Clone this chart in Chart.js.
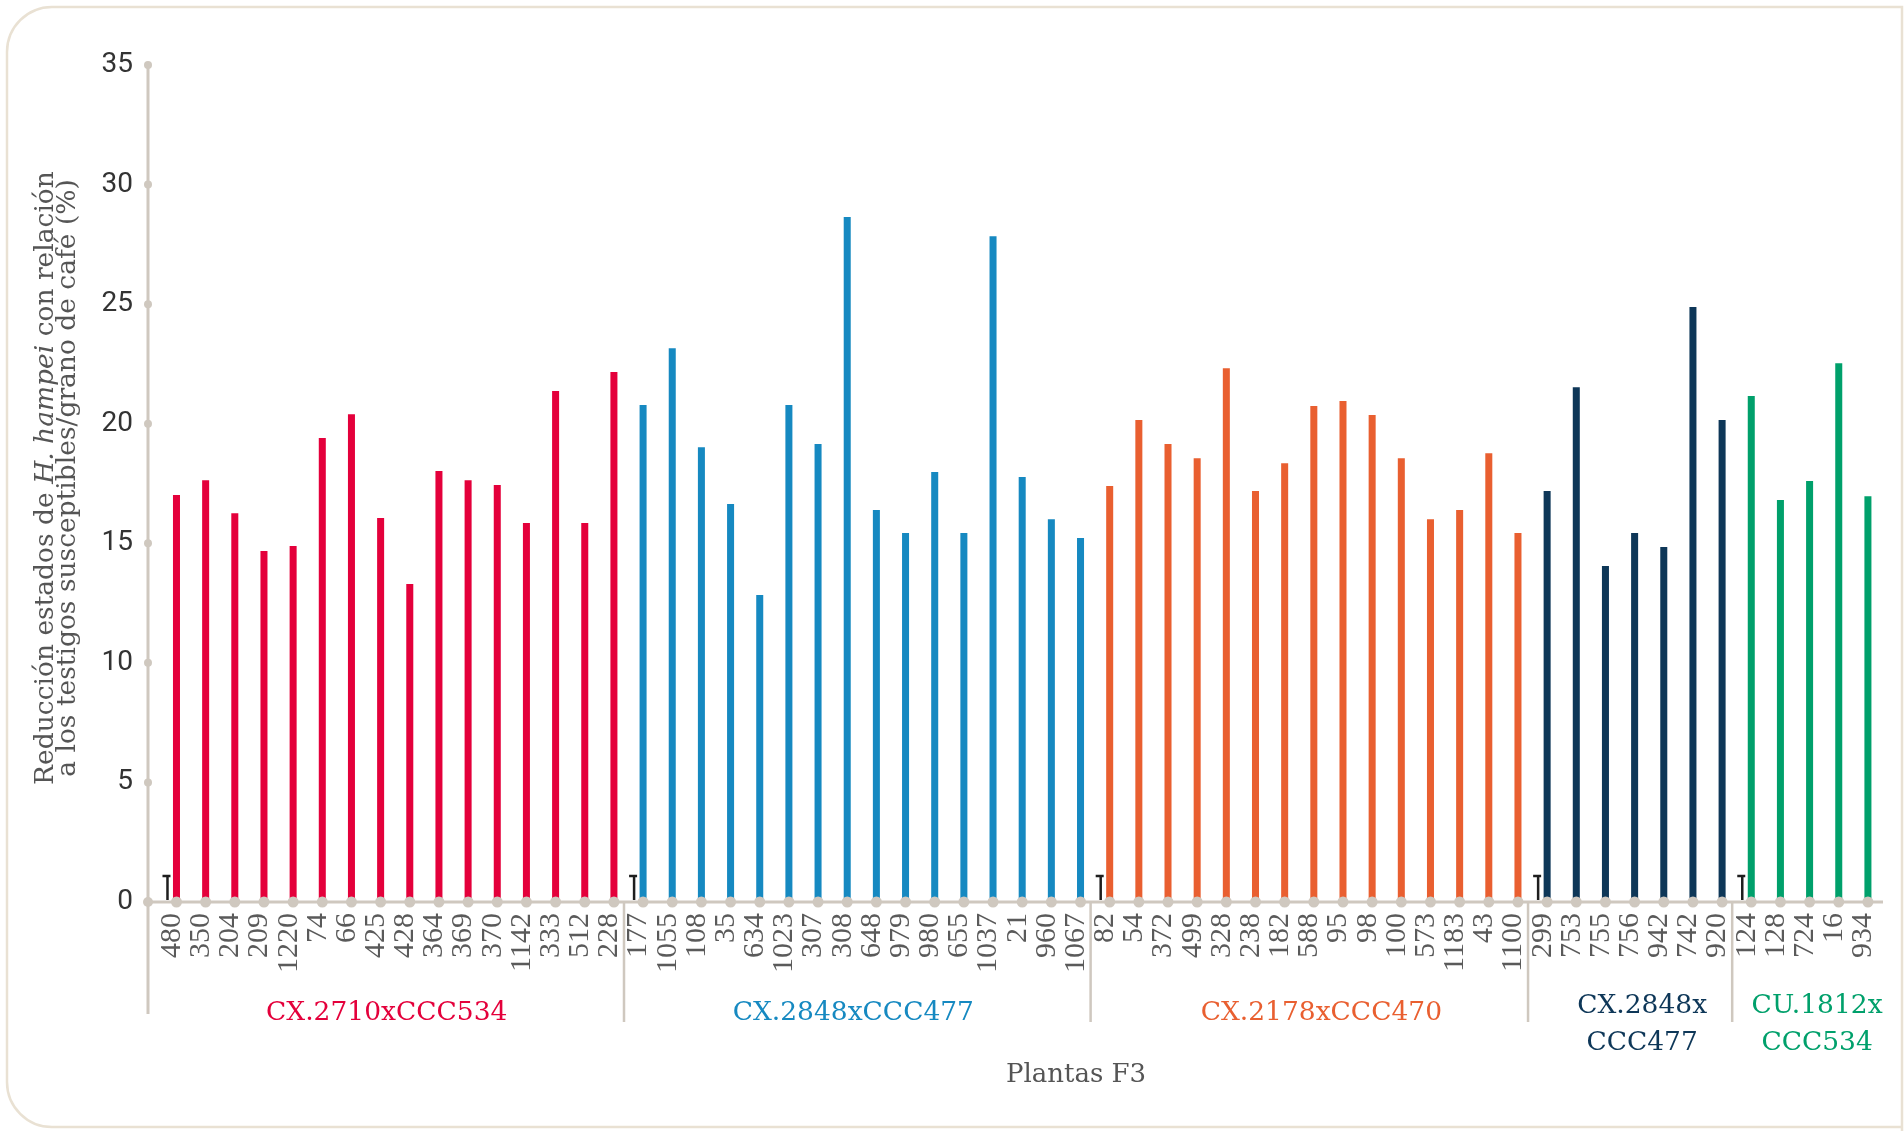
<!DOCTYPE html>
<html>
<head>
<meta charset="utf-8">
<script src="https://cdn.jsdelivr.net/npm/chart.js@4/dist/chart.umd.min.js"></script>
<style>
html,body{margin:0;padding:0;background:#fff;}
canvas{display:block;}
</style>
</head>
<body>
<canvas id="c" width="1904" height="1131"></canvas>
<script>
const categories = ['480','350','204','209','1220','74','66','425','428','364','369','370','1142','333','512','228',
  '177','1055','108','35','634','1023','307','308','648','979','980','655','1037','21','960','1067',
  '82','54','372','499','328','238','182','588','95','98','100','573','1183','43','1100',
  '299','753','755','756','942','742','920',
  '124','128','724','16','934'];
const values = [17.02,17.64,16.26,14.68,14.89,19.40,20.40,16.06,13.30,18.02,17.64,17.44,15.85,21.37,15.85,22.16,
  20.78,23.16,19.02,16.64,12.84,20.78,19.15,28.64,16.39,15.43,17.98,15.43,27.84,17.77,16.01,15.22,
  17.40,20.16,19.15,18.56,22.32,17.19,18.35,20.74,20.95,20.36,18.56,16.01,16.39,18.77,15.43,
  17.19,21.53,14.05,15.43,14.84,24.88,20.16,
  21.16,16.81,17.60,22.53,16.97];
const groupNames = [['CX.2710xCCC534'],['CX.2848xCCC477'],['CX.2178xCCC470'],['CX.2848x','CCC477'],['CU.1812x','CCC534']];
const groupSizes = [16,16,15,7,5];
const groupColors = ['#e4003b','#1689c1','#e95f30','#0e3758','#00a06b'];
const yMin = 0, yMax = 35, yStep = 5;
const markerValue = 1.09;
const xTitle = 'Plantas F3';
const yTitleLine1 = [['Reducción estados de ', false], ['H. hampei', true], [' con relación', false]];
const yTitleLine2 = [['a los testigos susceptibles/grano de café (%)', false]];

const barColors = [];
const groupStart = [];
groupSizes.forEach((n, g) => { groupStart.push(barColors.length); for (let i = 0; i < n; i++) barColors.push(groupColors[g]); });
const zeros = categories.map(() => 0);

const AXIS = '#cfc8bf';
const SERIF = '"DejaVu Serif", serif';
const labelShift = [-4, -4, 12, 12, 12];

const decor = {
  id: 'decor',
  beforeDraw(chart) {
    const ctx = chart.ctx;
    ctx.save();
    ctx.fillStyle = '#fff';
    ctx.fillRect(0, 0, chart.width, chart.height);
    ctx.strokeStyle = '#e9e1d3';
    ctx.lineWidth = 2.5;
    const l = 7, t = 7, r = 1902, b = 1127, rad = 45;
    ctx.beginPath();
    ctx.moveTo(r, b + 20);
    ctx.lineTo(r, t);
    ctx.lineTo(l + rad, t);
    ctx.arcTo(l, t, l, t + rad, rad);
    ctx.lineTo(l, b - rad);
    ctx.arcTo(l, b, l + rad, b, rad);
    ctx.lineTo(r, b);
    ctx.stroke();
    ctx.restore();
  },
  afterDatasetsDraw(chart) {
    const ctx = chart.ctx;
    const xs = chart.scales.x, ys = chart.scales.y;
    const metaA = chart.getDatasetMeta(0), metaB = chart.getDatasetMeta(1);
    const y0 = ys.getPixelForValue(0);
    const axisX = 148;
    ctx.save();
    ctx.strokeStyle = AXIS;
    ctx.lineWidth = 3;
    ctx.beginPath();
    ctx.moveTo(axisX, ys.getPixelForValue(yMax));
    ctx.lineTo(axisX, 1014);
    ctx.moveTo(axisX, y0);
    ctx.lineTo(chart.chartArea.right + 5, y0);
    ctx.stroke();
    ctx.lineWidth = 2.5;
    ctx.beginPath();
    for (let g = 1; g < groupStart.length; g++) {
      const i = groupStart[g];
      const sx = (xs.getPixelForValue(i - 1) + xs.getPixelForValue(i)) / 2;
      ctx.moveTo(sx, y0);
      ctx.lineTo(sx, 1022);
    }
    ctx.stroke();
    ctx.fillStyle = AXIS;
    for (let v = yMin + yStep; v <= yMax; v += yStep) {
      ctx.beginPath(); ctx.arc(axisX, ys.getPixelForValue(v), 4, 0, Math.PI * 2); ctx.fill();
    }
    ctx.beginPath(); ctx.arc(axisX, y0, 5, 0, Math.PI * 2); ctx.fill();
    metaB.data.forEach(el => { ctx.beginPath(); ctx.arc(el.x, y0, 5.5, 0, Math.PI * 2); ctx.fill(); });
    ctx.strokeStyle = '#1e1e1e';
    ctx.lineWidth = 2.5;
    const ty = ys.getPixelForValue(markerValue);
    groupStart.forEach(i => {
      const mx = metaA.data[i].x;
      ctx.beginPath();
      ctx.moveTo(mx, y0 - 2);
      ctx.lineTo(mx, ty);
      ctx.moveTo(mx - 5, ty);
      ctx.lineTo(mx + 3, ty);
      ctx.stroke();
    });
    ctx.font = '26.5px ' + SERIF;
    ctx.textAlign = 'center';
    ctx.textBaseline = 'alphabetic';
    groupNames.forEach((lines, g) => {
      const a = groupStart[g], z = a + groupSizes[g] - 1;
      const cx = (xs.getPixelForValue(a) + xs.getPixelForValue(z)) / 2 + labelShift[g];
      ctx.fillStyle = groupColors[g];
      if (lines.length === 1) ctx.fillText(lines[0], cx, 1020);
      else { ctx.fillText(lines[0], cx, 1013); ctx.fillText(lines[1], cx, 1050); }
    });
    ctx.fillStyle = '#555';
    ctx.font = '26px ' + SERIF;
    ctx.fillText(xTitle, 1076, 1082);
    const drawLine = (parts, bx, cy) => {
      const fonts = parts.map(p => (p[1] ? 'italic ' : '') + '26.5px ' + SERIF);
      let w = 0;
      const ws = parts.map((p, k) => { ctx.font = fonts[k]; const m = ctx.measureText(p[0]).width; w += m; return m; });
      ctx.save();
      ctx.translate(bx, cy);
      ctx.rotate(-Math.PI / 2);
      ctx.textAlign = 'left';
      let x = -w / 2;
      parts.forEach((p, k) => { ctx.font = fonts[k]; ctx.fillText(p[0], x, 0); x += ws[k]; });
      ctx.restore();
    };
    ctx.fillStyle = '#555';
    drawLine(yTitleLine1, 53, 478);
    drawLine(yTitleLine2, 75, 478);
    ctx.restore();
  }
};

new Chart(document.getElementById('c'), {
  type: 'bar',
  data: {
    labels: categories,
    datasets: [
      { label: 'marker', data: zeros, backgroundColor: 'rgba(0,0,0,0)' },
      { label: 'values', data: values, backgroundColor: barColors }
    ]
  },
  options: {
    responsive: false,
    animation: false,
    events: [],
    categoryPercentage: 0.617,
    barPercentage: 0.78,
    layout: { padding: { top: 65, right: 26, left: 0, bottom: 0 } },
    plugins: { legend: { display: false }, tooltip: { enabled: false }, title: { display: false } },
    scales: {
      x: {
        type: 'category',
        offset: true,
        grid: { display: false, drawTicks: false },
        border: { display: false },
        ticks: {
          autoSkip: false, maxRotation: 90, minRotation: 90, padding: 11,
          color: '#5a5a5a', font: { family: '"Liberation Serif", serif', size: 30 }
        },
        afterFit(scale) { scale.height = 229; scale.paddingLeft = 0; scale.paddingRight = 0; }
      },
      y: {
        min: yMin, max: yMax,
        grid: { display: false, drawTicks: false },
        border: { display: false },
        ticks: { stepSize: yStep, padding: 24.4, color: '#333', font: { family: 'Roboto, sans-serif', size: 28 } },
        afterFit(scale) { scale.width = 157.4; scale.paddingTop = 0; scale.paddingBottom = 0; }
      }
    }
  },
  plugins: [decor]
});
</script>
</body>
</html>
